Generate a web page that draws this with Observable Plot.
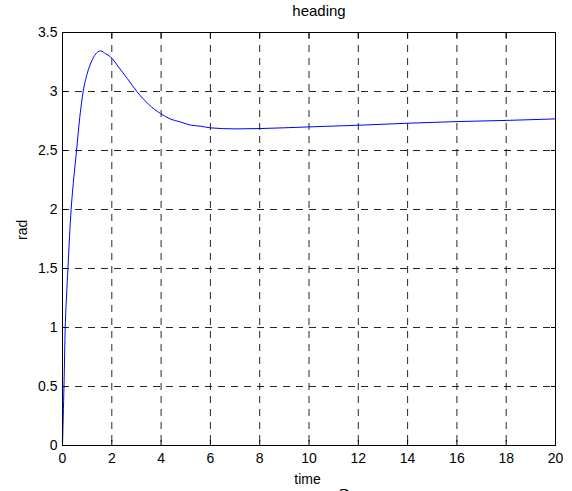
<!DOCTYPE html>
<html>
<head>
<meta charset="utf-8">
<script src="https://cdn.jsdelivr.net/npm/d3@7"></script>
<script src="https://cdn.jsdelivr.net/npm/@observablehq/plot@0.6"></script>
<style>
  html, body { margin: 0; padding: 0; background: #fff; overflow: hidden; }
</style>
</head>
<body>
<div id="chart"></div>
<script>
// Data
const time = [0, 0.03, 0.06, 0.11, 0.16, 0.22, 0.35, 0.45, 0.57, 0.7, 0.84, 1.0, 1.2, 1.4, 1.55, 1.75, 1.95, 2.3, 2.63, 3.03, 3.5, 3.97, 4.4, 4.78, 5.2, 5.6, 6, 7, 8, 10, 12, 14, 16, 18, 20];
const heading = [0, 0.25, 0.5, 1.0, 1.25, 1.5, 2.0, 2.25, 2.5, 2.78, 3.0, 3.15, 3.265, 3.33, 3.344, 3.32, 3.293, 3.2, 3.11, 2.997, 2.89, 2.814, 2.765, 2.742, 2.715, 2.706, 2.692, 2.683, 2.686, 2.70, 2.714, 2.731, 2.745, 2.755, 2.768];
const xTicks = [0, 2, 4, 6, 8, 10, 12, 14, 16, 18, 20];
const yTicks = [0, 0.5, 1, 1.5, 2, 2.5, 3, 3.5];
const xGrid = [2, 4, 6, 8, 10, 12, 14, 16, 18];
const yGrid = [0.5, 1, 1.5, 2, 2.5, 3];
const titleText = "heading";
const xLabel = "time";
const yLabel = "rad";

const rows = time.map((t, i) => ({t, v: heading[i]}));
const font = "'Liberation Sans', Arial, sans-serif";

const chart = Plot.plot({
  width: 572,
  height: 491,
  marginLeft: 62,
  marginRight: 17,
  marginTop: 32,
  marginBottom: 46,
  style: {fontFamily: font, fontSize: "14px", background: "#fff", color: "#000"},
  x: {domain: [0, 20]},
  y: {domain: [0, 3.5]},
  marks: [
    Plot.ruleX(xGrid, {stroke: "#000", strokeOpacity: 0.85, strokeDasharray: "7,6"}),
    Plot.ruleY(yGrid, {stroke: "#000", strokeOpacity: 0.85, strokeDasharray: "7,6"}),
    Plot.line(rows, {x: "t", y: "v", stroke: "#0000ff", strokeWidth: 1, curve: "monotone-x"}),
    Plot.frame({stroke: "#000", strokeWidth: 1}),
    // labels
    Plot.axisX({ticks: xTicks, tickSize: 0, tickPadding: 8, label: null, fontSize: 14}),
    Plot.axisY({ticks: yTicks, tickSize: 0, tickPadding: 5, label: null, fontSize: 14, tickFormat: d => String(d)}),
    // inward ticks
    Plot.axisX({ticks: xTicks, anchor: "bottom", tickSize: 5, dy: -5, text: null, label: null}),
    Plot.axisX({ticks: xTicks, anchor: "top", tickSize: 5, dy: 5, text: null, label: null}),
    Plot.axisY({ticks: yTicks, anchor: "left", tickSize: 5, dx: 5, text: null, label: null}),
    Plot.axisY({ticks: yTicks, anchor: "right", tickSize: 5, dx: -5, text: null, label: null}),
    // title and axis labels
    Plot.text([titleText], {frameAnchor: "top", lineAnchor: "bottom", dy: -16.5, dx: 10, fontSize: 15, fill: "#000"}),
    Plot.text([xLabel], {frameAnchor: "bottom", lineAnchor: "bottom", dy: 38, dx: -1.5, fontSize: 14, fill: "#000"}),
    Plot.text([yLabel], {frameAnchor: "left", lineAnchor: "bottom", rotate: -90, dx: -36, dy: 1, fontSize: 14, fill: "#000"}),
    Plot.text(["2"], {frameAnchor: "bottom", lineAnchor: "bottom", dy: 58, dx: 35.5, fontSize: 24, fontFamily: "'Liberation Serif', serif", fill: "#000"})
  ]
});
document.getElementById("chart").appendChild(chart);
</script>
</body>
</html>
